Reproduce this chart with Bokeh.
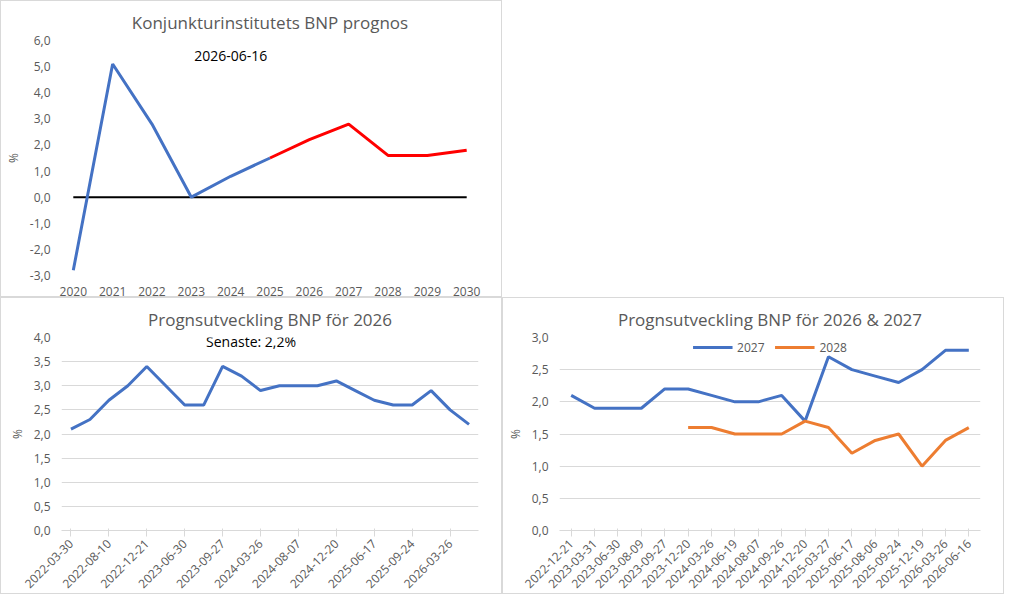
from bokeh.plotting import figure
from bokeh.layouts import gridplot
from bokeh.models import FixedTicker, Label, Range1d, Legend, LegendItem, CustomJSTickFormatter
from bokeh.embed import file_html
from bokeh.resources import INLINE
import math

years = list(range(2020, 2031))
hist_vals = [-2.8, 5.1, 2.8, 0.0, 0.8, 1.5]
prog_years = [2025, 2026, 2027, 2028, 2029, 2030]
prog_vals = [1.5, 2.2, 2.8, 1.6, 1.6, 1.8]

bl_labels = ["2022-03-30", "2022-08-10", "2022-12-21", "2023-06-30", "2023-09-27", "2024-03-26",
             "2024-08-07", "2024-12-20", "2025-06-17", "2025-09-24", "2026-03-26"]
bl_vals = [2.1, 2.3, 2.7, 3.0, 3.4, 3.0, 2.6, 2.6, 3.4, 3.2, 2.9, 3.0, 3.0, 3.0, 3.1, 2.9, 2.7, 2.6, 2.6, 2.9, 2.5, 2.2]

br_labels = ["2022-12-21", "2023-03-31", "2023-06-30", "2023-08-09", "2023-09-27", "2023-12-20",
             "2024-03-26", "2024-06-19", "2024-08-07", "2024-09-26", "2024-12-20", "2025-03-27",
             "2025-06-17", "2025-08-06", "2025-09-24", "2025-12-19", "2026-03-26", "2026-06-16"]
v2027 = [2.1, 1.9, 1.9, 1.9, 2.2, 2.2, 2.1, 2.0, 2.0, 2.1, 1.7, 2.7, 2.5, 2.4, 2.3, 2.5, 2.8, 2.8]
v2028 = [1.6, 1.6, 1.5, 1.5, 1.5, 1.7, 1.6, 1.2, 1.4, 1.5, 1.0, 1.4, 1.6]

FONT = "Open Sans"
GRAY = "#595959"
BLUE = "#4472C4"
ORANGE = "#ED7D31"
W, H = 502, 297

comma = CustomJSTickFormatter(code="return tick.toFixed(1).replace('.', ',');")

def base(title, yr, ystep, grid=True):
    p = figure(width=W, height=H, output_backend="svg", toolbar_location=None,
               y_range=Range1d(*yr), min_border_left=30, min_border_right=25, min_border_top=12,
               min_border_bottom=12)
    p.styles = {"border": "1px solid #D9D9D9"}
    p.title.text = title
    p.title.align = "center"
    p.title.text_font = FONT
    p.title.text_font_size = "17px"
    p.title.text_font_style = "normal"
    p.title.text_color = GRAY
    p.title.standoff = 14
    p.outline_line_color = None
    p.yaxis.ticker = FixedTicker(ticks=[yr[0] + i * ystep for i in range(int(round((yr[1] - yr[0]) / ystep)) + 1)])
    p.yaxis.formatter = comma
    p.yaxis.axis_label = "%"
    for ax in (p.xaxis, p.yaxis):
        ax.major_label_text_font = FONT
        ax.major_label_text_font_size = "12px"
        ax.major_label_text_color = GRAY
        ax.axis_label_text_font = FONT
        ax.axis_label_text_font_style = "normal"
        ax.axis_label_text_color = GRAY
        ax.axis_label_text_font_size = "12px"
        ax.minor_tick_line_color = None
    p.yaxis.axis_line_color = None
    p.yaxis.major_tick_line_color = None
    p.xaxis.axis_line_color = "#D9D9D9"
    p.xaxis.major_tick_line_color = "#D9D9D9"
    p.xgrid.grid_line_color = None
    p.ygrid.grid_line_color = "#D9D9D9" if grid else None
    return p

# Top-left
p1 = base("Konjunkturinstitutets BNP prognos", (-3, 6), 1, grid=False)
p1.x_range = Range1d(2019.7, 2030.3)
p1.xaxis.ticker = FixedTicker(ticks=years)
p1.xaxis.axis_line_color = None
p1.xaxis.major_tick_line_color = None
p1.line([years[0], years[-1]], [0, 0], line_color="black", line_width=2)
p1.line(years[:len(hist_vals)], hist_vals, line_color=BLUE, line_width=3)
p1.line(prog_years, prog_vals, line_color="red", line_width=3)
p1.add_layout(Label(x=2024.0, y=5.2, text="2026-06-16", text_font=FONT, text_font_size="14px",
                    text_align="center", text_color="black"))

# Bottom-left
p2 = base("Prognsutveckling BNP för 2026", (0, 4), 0.5)
p2.x_range = Range1d(-0.5, len(bl_vals) - 0.5)
idx2 = [2 * i for i in range(len(bl_labels))]
p2.xaxis.ticker = FixedTicker(ticks=idx2)
p2.xaxis.major_label_overrides = {i: l for i, l in zip(idx2, bl_labels)}
p2.xaxis.major_label_orientation = math.pi / 4
p2.line(list(range(len(bl_vals))), bl_vals, line_color=BLUE, line_width=3)
p2.add_layout(Label(x=9.5, y=3.72, text="Senaste: 2,2%", text_font=FONT, text_font_size="14px",
                    text_align="center", text_color="black"))

# Bottom-right
p3 = base("Prognsutveckling BNP för 2026 & 2027", (0, 3), 0.5)
p3.x_range = Range1d(-0.5, len(br_labels) - 0.5)
idx3 = list(range(len(br_labels)))
p3.xaxis.ticker = FixedTicker(ticks=idx3)
p3.xaxis.major_label_overrides = {i: l for i, l in zip(idx3, br_labels)}
p3.xaxis.major_label_orientation = math.pi / 4
r1 = p3.line(idx3, v2027, line_color=BLUE, line_width=3)
off = len(br_labels) - len(v2028)
r2 = p3.line(idx3[off:], v2028, line_color=ORANGE, line_width=3)
leg = Legend(items=[LegendItem(label="2027", renderers=[r1]), LegendItem(label="2028", renderers=[r2])],
             location="top_center", orientation="horizontal", background_fill_alpha=0,
             border_line_color=None, label_text_font=FONT, label_text_font_size="12px",
             label_text_color=GRAY, glyph_width=40, padding=0, margin=0, spacing=10)
p3.add_layout(leg)

g = gridplot([[p1, None], [p2, p3]], toolbar_location=None)
open("out.html", "w").write(file_html(g, INLINE))
